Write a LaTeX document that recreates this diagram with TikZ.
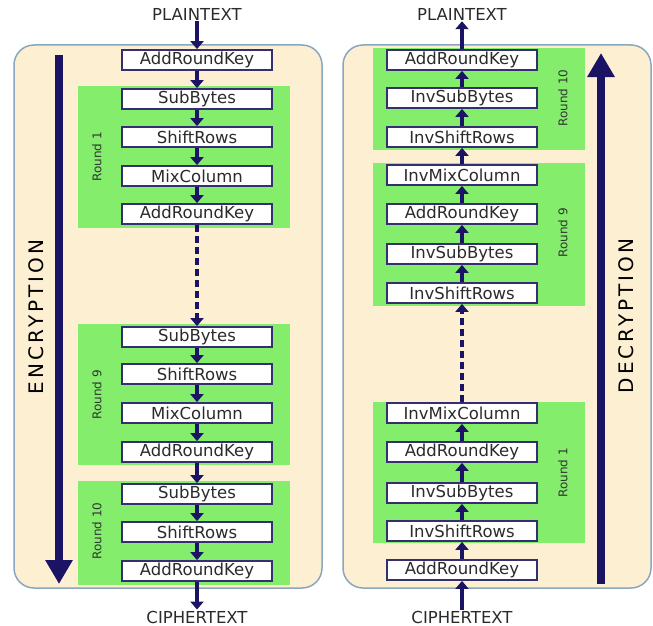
\documentclass[tikz,border=0pt]{standalone}
\usepackage{fontspec}
\setmainfont{DejaVu Sans}
\newfontfamily\widesans[LetterSpace=15]{DejaVu Sans}
\usetikzlibrary{arrows.meta}

\definecolor{navy}{HTML}{1B1464}
\definecolor{sand}{HTML}{FDEFD2}
\definecolor{steel}{HTML}{8BA6BF}
\definecolor{leaf}{HTML}{84EE6C}
\definecolor{ink}{HTML}{2B2B2B}
\definecolor{edge}{HTML}{332F70}

\begin{document}
\begin{tikzpicture}[
  x=1pt, y=-1pt,
  font=\fontsize{16.5}{19}\selectfont,
  panel/.style={draw=steel, line width=1.5pt, fill=sand, rounded corners=20pt, minimum width=308pt, minimum height=543pt},
  roundbg/.style={fill=leaf, minimum width=212pt, inner sep=0pt},
  stage/.style={draw=edge, line width=1.8pt, fill=white, text=ink, minimum width=150pt, minimum height=20pt, inner sep=0pt},
  roundlbl/.style={rotate=90, font=\fontsize{12}{14}\selectfont, text=black!80},
  io/.style={text=ink, inner sep=1pt},
  flow/.style={-{Triangle[width=13pt,length=8pt]}, line width=4pt, draw=navy},
  elided/.style={flow, dash pattern=on 7pt off 4pt},
  dirarrow/.style={-{Triangle[width=26pt,length=24pt]}, line width=8pt, draw=navy},
  dirlbl/.style={rotate=90, font=\widesans\fontsize{20}{24}\selectfont, text=black}
]
\useasboundingbox (0,0) rectangle (653,626);

% two panels
\node[panel] (encPanel) at (168,316.5) {};
\node[panel] (decPanel) at (497,316.5) {};

% encryption side
\node[roundbg, minimum height=142pt] (encR1) at (184,157) {};
\node[roundbg, minimum height=141pt] (encR9) at (184,394.5) {};
\node[roundbg, minimum height=104pt] (encR10) at (184,533) {};
\node[roundlbl] (encR1lbl) at (97,157) {Round 1};
\node[roundlbl] (encR9lbl) at (97,395) {Round 9};
\node[roundlbl] (encR10lbl) at (97,531) {Round 10};

\node[io] (encIn) at (197,14) {PLAINTEXT};
\node[stage] (encK0) at (197,60) {AddRoundKey};
\node[stage] (encSB1) at (197,99) {SubBytes};
\node[stage] (encSR1) at (197,137) {ShiftRows};
\node[stage] (encMC1) at (197,176) {MixColumn};
\node[stage] (encK1) at (197,214) {AddRoundKey};
\node[stage] (encSB9) at (197,337) {SubBytes};
\node[stage] (encSR9) at (197,374) {ShiftRows};
\node[stage] (encMC9) at (197,413) {MixColumn};
\node[stage] (encK9) at (197,452) {AddRoundKey};
\node[stage] (encSB10) at (197,494) {SubBytes};
\node[stage] (encSR10) at (197,532) {ShiftRows};
\node[stage] (encK10) at (197,571) {AddRoundKey};
\node[io, anchor=base] (encOut) at (197,623) {CIPHERTEXT};

\draw[flow] (encIn) -- (encK0);
\draw[flow] (encK0) -- (encSB1);
\draw[flow] (encSB1) -- (encSR1);
\draw[flow] (encSR1) -- (encMC1);
\draw[flow] (encMC1) -- (encK1);
\draw[elided] (encK1) -- (encSB9);
\draw[flow] (encSB9) -- (encSR9);
\draw[flow] (encSR9) -- (encMC9);
\draw[flow] (encMC9) -- (encK9);
\draw[flow] (encK9) -- (encSB10);
\draw[flow] (encSB10) -- (encSR10);
\draw[flow] (encSR10) -- (encK10);
\draw[flow] (encK10) -- (encOut);

\coordinate (encTop) at (59,55);
\coordinate (encBot) at (59,584);
\draw[dirarrow] (encTop) -- (encBot);
\node[dirlbl] (encLbl) at (36,317) {ENCRYPTION};

% decryption side
\node[roundbg, minimum height=102pt] (decR10) at (478.5,99) {};
\node[roundbg, minimum height=143pt] (decR9) at (478.5,234.5) {};
\node[roundbg, minimum height=141pt] (decR1) at (478.5,472.5) {};
\node[roundlbl] (decR10lbl) at (563,98) {Round 10};
\node[roundlbl] (decR9lbl) at (563,233) {Round 9};
\node[roundlbl] (decR1lbl) at (563,473) {Round 1};

\node[io] (decOut) at (462,14) {PLAINTEXT};
\node[stage] (decK10) at (462,60) {AddRoundKey};
\node[stage] (decSB10) at (462,98) {InvSubBytes};
\node[stage] (decSR10) at (462,137) {InvShiftRows};
\node[stage] (decMC9) at (462,175) {InvMixColumn};
\node[stage] (decK9) at (462,214) {AddRoundKey};
\node[stage] (decSB9) at (462,254) {InvSubBytes};
\node[stage] (decSR9) at (462,293) {InvShiftRows};
\node[stage] (decMC1) at (462,413) {InvMixColumn};
\node[stage] (decK1) at (462,452) {AddRoundKey};
\node[stage] (decSB1) at (462,493) {InvSubBytes};
\node[stage] (decSR1) at (462,531) {InvShiftRows};
\node[stage] (decK0) at (462,570) {AddRoundKey};
\node[io, anchor=base] (decIn) at (462,623) {CIPHERTEXT};

\draw[flow] (decIn) -- (decK0);
\draw[flow] (decK0) -- (decSR1);
\draw[flow] (decSR1) -- (decSB1);
\draw[flow] (decSB1) -- (decK1);
\draw[flow] (decK1) -- (decMC1);
\draw[elided] (decMC1) -- (decSR9);
\draw[flow] (decSR9) -- (decSB9);
\draw[flow] (decSB9) -- (decK9);
\draw[flow] (decK9) -- (decMC9);
\draw[flow] (decMC9) -- (decSR10);
\draw[flow] (decSR10) -- (decSB10);
\draw[flow] (decSB10) -- (decK10);
\draw[flow] (decK10) -- (decOut);

\coordinate (decBot) at (601,584);
\coordinate (decTop) at (601,53);
\draw[dirarrow] (decBot) -- (decTop);
\node[dirlbl] (decLbl) at (626,316) {DECRYPTION};

\end{tikzpicture}
\end{document}
